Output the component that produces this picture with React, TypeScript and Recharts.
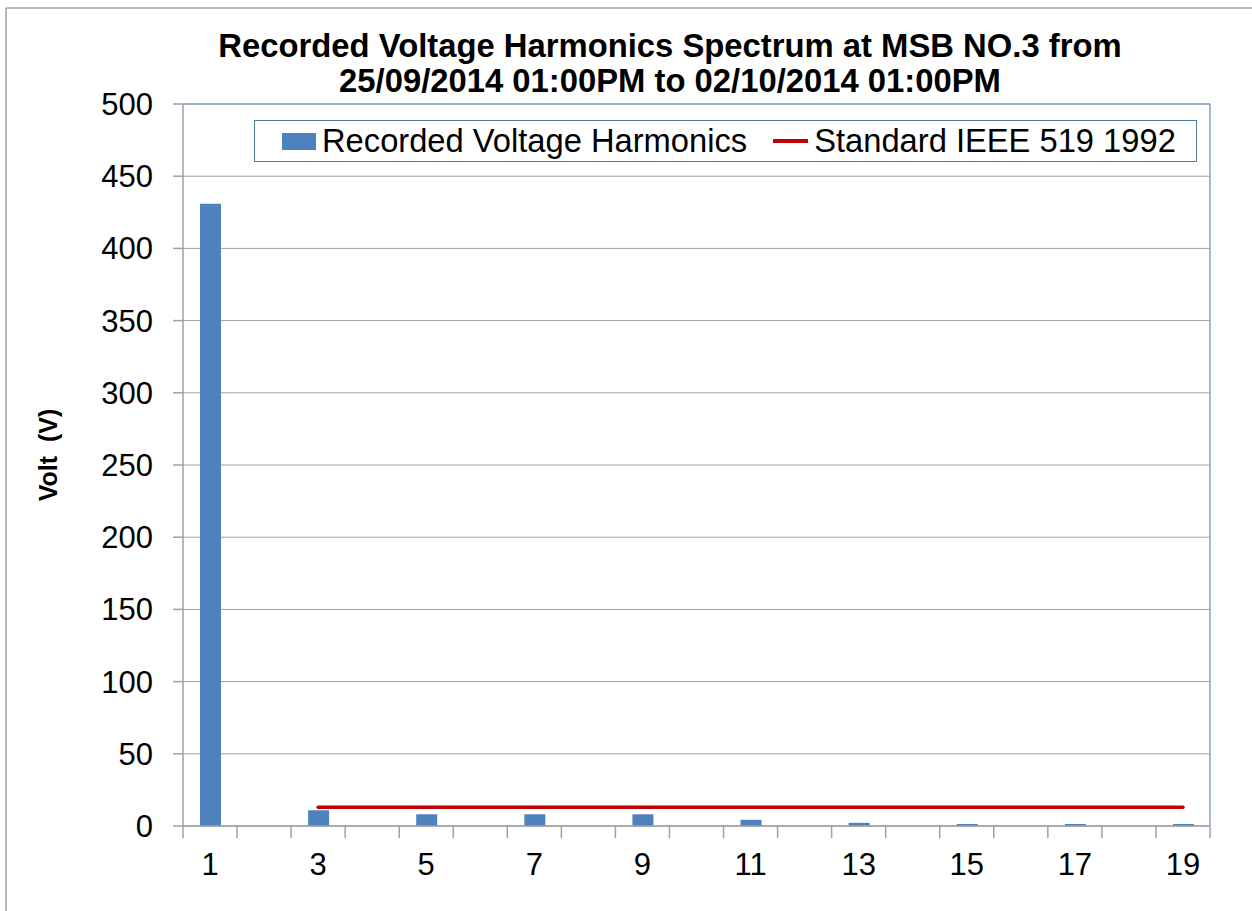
import { Bar, CartesianGrid, ComposedChart, Legend, Line, ReferenceLine, XAxis, YAxis } from "recharts";

const harmonics = ["1", "2", "3", "4", "5", "6", "7", "8", "9", "10", "11", "12", "13", "14", "15", "16", "17", "18", "19"];
const recordedVoltage = [431, null, 10.9, null, 8.1, null, 8.1, null, 8.1, null, 4.3, null, 2.2, null, 1.4, null, 1.4, null, 1.4];
const ieeeLimit = [null, null, 13, null, 13, null, 13, null, 13, null, 13, null, 13, null, 13, null, 13, null, 13];
const yTicks = [0, 50, 100, 150, 200, 250, 300, 350, 400, 450, 500];

const FONT = "'Liberation Sans', Arial, sans-serif";
const BLUE = "#4f81bd";
const RED = "#c00000";
const GRAY = "#a0a0a0";
const FRAME_BLUE = "#86a3cf";

const data = harmonics.map((h, i) => ({
  harmonic: h,
  recorded: recordedVoltage[i],
  limit: ieeeLimit[i],
}));

function XTick(props: any) {
  const { x, y, payload, index, visibleTicksCount } = props;
  const half = payload.offset || 1027 / harmonics.length / 2;
  const showLabel = Number(payload.value) % 2 === 1;
  return (
    <g>
      <line x1={x - half} x2={x - half} y1={y} y2={y + 12} stroke={GRAY} strokeWidth={1.5} />
      {index === visibleTicksCount - 1 && (
        <line x1={x + half} x2={x + half} y1={y} y2={y + 12} stroke={GRAY} strokeWidth={1.5} />
      )}
      {showLabel && (
        <text x={x} y={y + 49} textAnchor="middle" fontSize={31} fill="#000" fontFamily={FONT}>
          {payload.value}
        </text>
      )}
    </g>
  );
}

function LegendBox() {
  return (
    <div
      style={{
        width: 943,
        height: 42,
        boxSizing: "border-box",
        border: "1.5px solid #4e7f8e",
        background: "#fff",
        display: "flex",
        alignItems: "center",
        fontFamily: FONT,
        fontSize: 32.7,
        color: "#000",
        whiteSpace: "nowrap",
      }}
    >
      <span style={{ display: "inline-block", width: 34, height: 17, background: BLUE, marginLeft: 27, marginRight: 6 }} />
      <span>Recorded Voltage Harmonics</span>
      <span style={{ display: "inline-block", width: 35, height: 4, background: RED, marginLeft: 26, marginRight: 6 }} />
      <span>Standard IEEE 519 1992</span>
    </div>
  );
}

export default function App() {
  return (
    <div style={{ position: "absolute", left: 0, top: 0, width: 1252, height: 911, background: "#fff", fontFamily: FONT }}>
      <ComposedChart
        width={1252}
        height={911}
        data={data}
        margin={{ top: 104, right: 41, bottom: 0, left: 0 }}
        style={{ fontFamily: FONT }}
      >
        <CartesianGrid vertical={false} stroke={GRAY} />
        <XAxis
          dataKey="harmonic"
          height={85}
          interval={0}
          tickSize={0}
          tickMargin={0}
          tickLine={false}
          axisLine={{ stroke: GRAY, strokeWidth: 1.5 }}
          tick={(p: any) => <XTick {...p} />}
        />
        <YAxis
          domain={[0, 500]}
          ticks={yTicks}
          interval={0}
          width={183}
          tickSize={10}
          tickMargin={20}
          tick={{ fontSize: 31, fill: "#000" }}
          tickLine={{ stroke: GRAY, strokeWidth: 1.5 }}
          axisLine={{ stroke: GRAY, strokeWidth: 1.5 }}
        />
        <YAxis
          yAxisId="frame"
          orientation="right"
          width={1}
          domain={[0, 500]}
          tick={false}
          tickLine={false}
          axisLine={{ stroke: FRAME_BLUE, strokeWidth: 1.5 }}
        />
        <ReferenceLine y={500} stroke={FRAME_BLUE} strokeWidth={1.5} />
        <Bar dataKey="recorded" name="Recorded Voltage Harmonics" fill={BLUE} barSize={21} isAnimationActive={false} />
        <Line
          type="linear"
          dataKey="limit"
          name="Standard IEEE 519 1992"
          stroke={RED}
          strokeWidth={3.5}
          strokeLinecap="round"
          dot={false}
          activeDot={false}
          connectNulls
          isAnimationActive={false}
        />
        <Legend
          layout="horizontal"
          verticalAlign="middle"
          align="center"
          content={() => <LegendBox />}
          wrapperStyle={{ top: 120, left: 254, width: 943, height: 42 }}
        />
      </ComposedChart>
      <svg
        width={1252}
        height={911}
        style={{ position: "absolute", left: 0, top: 0, pointerEvents: "none" }}
        fontFamily={FONT}
      >
        <line x1={6} x2={1252} y1={8} y2={8} stroke={GRAY} strokeWidth={1.5} />
        <line x1={6} x2={6} y1={8} y2={911} stroke={GRAY} strokeWidth={1.5} />
        <text x={670} y={57} textAnchor="middle" fontSize={32.8} fontWeight="bold" fill="#000">
          Recorded Voltage Harmonics Spectrum at MSB NO.3 from
        </text>
        <text x={670} y={92} textAnchor="middle" fontSize={32.8} fontWeight="bold" fill="#000">
          25/09/2014 01:00PM to 02/10/2014 01:00PM
        </text>
        <text
          transform="translate(57,455) rotate(-90)"
          textAnchor="middle"
          fontSize={25}
          fontWeight="bold"
          fill="#000"
          style={{ whiteSpace: "pre" }}
        >
          {"Volt  (V)"}
        </text>
      </svg>
    </div>
  );
}
